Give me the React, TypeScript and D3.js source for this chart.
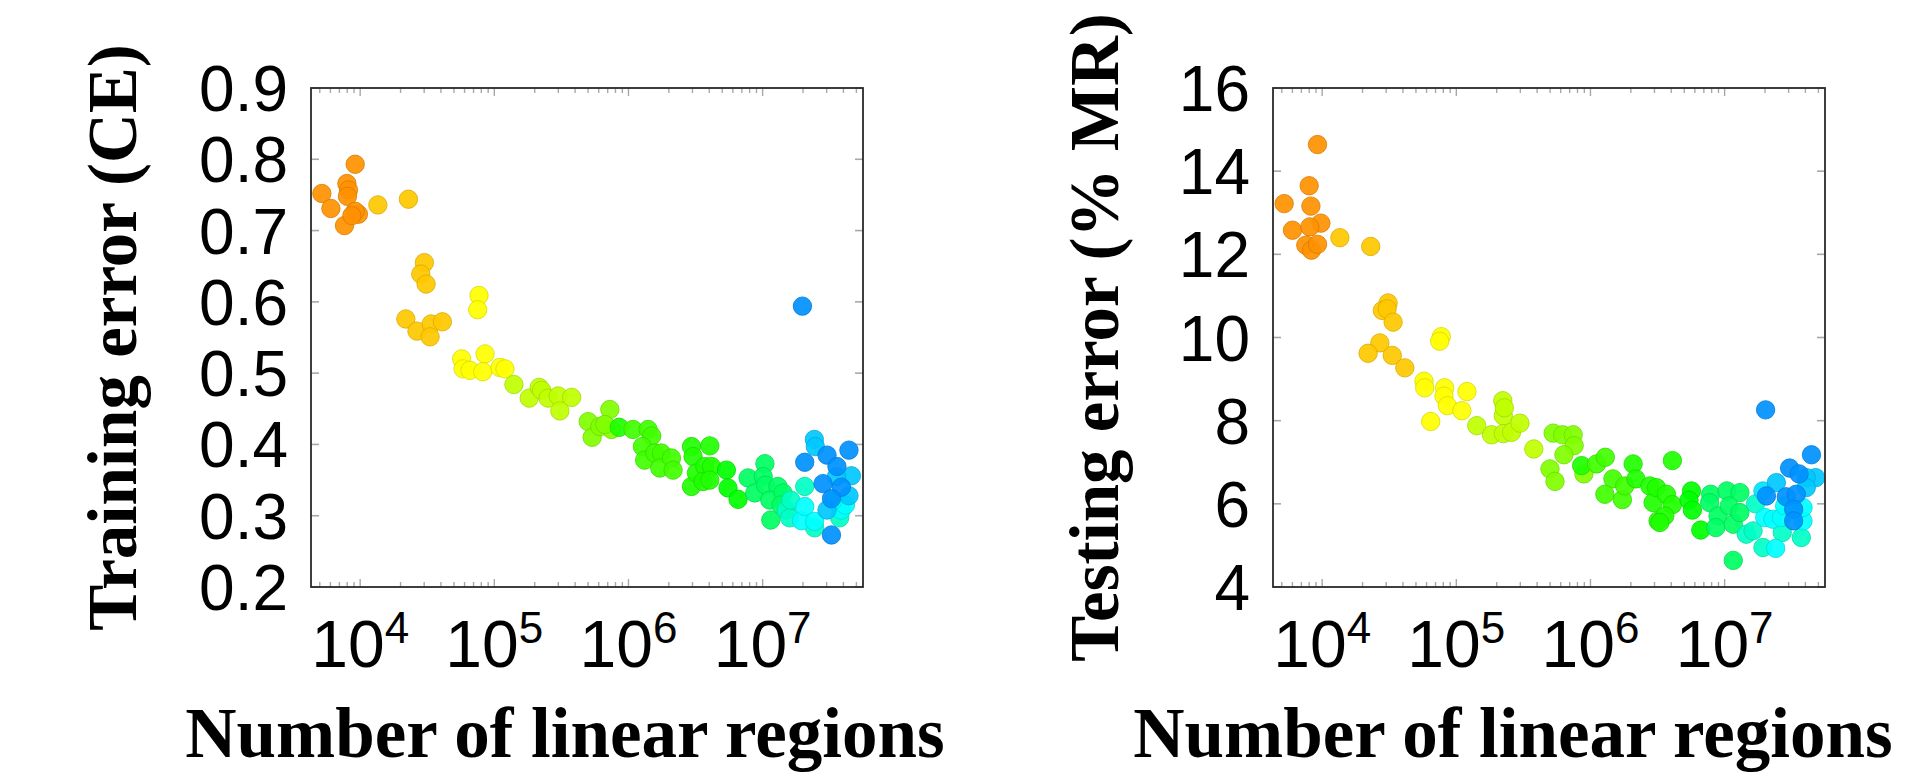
import * as d3 from "d3";

const xTickExps = [4, 5, 6, 7];
const regionsDomain = [4300, 5.6e7];
const trainTicks = [0.2, 0.3, 0.4, 0.5, 0.6, 0.7, 0.8, 0.9];
const testTicks = [4, 6, 8, 10, 12, 14, 16];

// [number of linear regions, training error (CE), colour level]
const trainPoints = [
  [5180, 0.752, 0], [7960, 0.766, 0], [8180, 0.757, 0], [8040, 0.748, 0], [6050, 0.731, 0],
  [7640, 0.707, 0], [9700, 0.723, 0], [9180, 0.727, 0], [8670, 0.721, 0], [9180, 0.793, 0],
  [13550, 0.736, 1], [22900, 0.744, 1], [30100, 0.655, 1], [28300, 0.639, 1], [31000, 0.625, 1],
  [21900, 0.576, 1], [26500, 0.559, 1], [33800, 0.569, 1], [41000, 0.572, 1], [33200, 0.551, 1],
  [76900, 0.609, 2], [75200, 0.589, 2], [57100, 0.52, 2], [58500, 0.506, 2], [65900, 0.504, 2],
  [85300, 0.527, 2], [82000, 0.502, 2], [110000, 0.508, 2], [120000, 0.506, 2],
  [140000, 0.484, 3], [182000, 0.465, 3], [216000, 0.48, 3], [225000, 0.476, 3], [252000, 0.465, 3],
  [299000, 0.468, 3], [308000, 0.447, 3], [377000, 0.466, 3],
  [501000, 0.432, 4], [536000, 0.41, 4], [726000, 0.449, 4], [612000, 0.425, 4], [748000, 0.421, 4],
  [667000, 0.428, 4],
  [853000, 0.424, 5.5], [1.08e6, 0.421, 5], [1.4e6, 0.421, 5], [1.49e6, 0.412, 5], [1.27e6, 0.397, 5],
  [1.32e6, 0.378, 5], [1.57e6, 0.388, 5], [1.76e6, 0.388, 5], [1.71e6, 0.367, 5], [2.09e6, 0.381, 5],
  [2.15e6, 0.364, 5],
  [2.95e6, 0.397, 5.5], [3.03e6, 0.383, 5.5], [2.95e6, 0.341, 5.5], [3.21e6, 0.36, 5.5], [4.04e6, 0.398, 5.5],
  [3.71e6, 0.369, 5.5], [4.16e6, 0.369, 5.5], [3.6e6, 0.348, 5.5], [4.04e6, 0.35, 5.5],
  [5.37e6, 0.364, 6], [5.52e6, 0.339, 6], [6.56e6, 0.323, 6],
  [7.79e6, 0.353, 7], [1.04e7, 0.373, 7], [1.01e7, 0.355, 7], [8.73e6, 0.332, 7], [1.05e7, 0.343, 7],
  [1.3e7, 0.341, 7], [1.13e7, 0.322, 7], [1.15e7, 0.294, 7], [1.42e7, 0.332, 7], [1.37e7, 0.315, 7],
  [1.5e7, 0.308, 8], [1.59e7, 0.297, 8], [1.62e7, 0.322, 8], [2.06e7, 0.341, 8], [2.44e7, 0.283, 8],
  [3.75e7, 0.297, 8],
  [1.95e7, 0.293, 9], [2.06e7, 0.313, 9], [2.44e7, 0.292, 9], [3.86e7, 0.308, 9], [4.14e7, 0.315, 9],
  [3.37e7, 0.322, 9],
  [2.43e7, 0.407, 10], [2.47e7, 0.397, 10], [4.59e7, 0.356, 10], [4.4e7, 0.328, 10], [3.02e7, 0.308, 10],
  [3.55e7, 0.355, 10],
  [1.98e7, 0.594, 11], [2.06e7, 0.375, 11], [3.02e7, 0.385, 11], [4.4e7, 0.392, 11], [3.58e7, 0.369, 11],
  [2.82e7, 0.345, 11], [3.86e7, 0.34, 11], [3.26e7, 0.324, 11], [3.26e7, 0.273, 11],
];

// [number of linear regions, testing error (% MR), colour level]
const testPoints = [
  [9230, 14.64, 0], [8000, 13.65, 0], [5210, 13.22, 0], [8240, 13.16, 0], [9780, 12.75, 0],
  [6010, 12.58, 0], [8090, 12.66, 0], [7550, 12.22, 0], [8320, 12.1, 0], [9230, 12.24, 0],
  [13550, 12.4, 1], [23000, 12.19, 1], [31000, 10.83, 1], [28100, 10.65, 1], [30500, 10.69, 1],
  [33800, 10.37, 1], [26900, 9.87, 1], [22000, 9.62, 1], [33300, 9.57, 1], [41300, 9.27, 1],
  [77300, 10.02, 2], [75200, 9.91, 2], [57400, 8.95, 2], [58100, 8.79, 2], [81800, 8.79, 2],
  [80900, 8.59, 2], [85700, 8.36, 2], [64400, 7.98, 2], [110000, 8.24, 2], [120000, 8.7, 2],
  [142000, 7.88, 3], [183000, 7.66, 3], [224000, 8.12, 3], [222000, 8.48, 3], [228000, 8.31, 3],
  [224000, 7.69, 3], [258000, 7.72, 3], [298000, 7.94, 3], [378000, 7.32, 3],
  [527000, 7.7, 4], [620000, 7.66, 4], [743000, 7.66, 4], [756000, 7.4, 4], [634000, 7.18, 4],
  [499000, 6.84, 4], [544000, 6.54, 4], [893000, 6.72, 4],
  [859000, 6.92, 5.5], [1.11e6, 6.96, 5], [1.29e6, 7.12, 5], [1.47e6, 6.6, 5], [1.28e6, 6.23, 5],
  [1.73e6, 6.1, 5], [1.8e6, 6.43, 5],
  [2.08e6, 6.96, 5.5], [2.18e6, 6.6, 5.5], [2.77e6, 6.43, 5.5], [2.93e6, 6.03, 5.5], [3.19e6, 5.59, 5.5],
  [4.08e6, 7.04, 5.5], [3.1e6, 6.39, 5.5], [3.68e6, 6.23, 5.5], [4.08e6, 5.98, 5.5], [3.58e6, 5.71, 5.5],
  [3.29e6, 5.55, 5.5],
  [5.66e6, 6.31, 6], [5.43e6, 6.09, 6], [5.75e6, 5.85, 6], [6.64e6, 5.37, 6],
  [7.87e6, 6.23, 7], [1.04e7, 6.31, 7], [1.3e7, 6.27, 7], [7.73e6, 6.03, 7], [8.93e6, 5.71, 7],
  [8.59e6, 5.43, 7], [1.08e7, 5.95, 7], [1.16e7, 5.51, 7], [1.3e7, 5.79, 7], [1.16e7, 4.64, 7],
  [1.45e7, 5.27, 8], [1.63e7, 5.35, 8], [1.7e7, 6.0, 8], [1.93e7, 4.95, 8], [2.69e7, 5.31, 8],
  [3.73e7, 5.19, 8],
  [2.4e7, 4.93, 9], [1.99e7, 5.67, 9], [2.29e7, 5.63, 9], [2.65e7, 5.67, 9], [3.84e7, 5.59, 9],
  [3.84e7, 5.91, 9], [2.8e7, 5.95, 9], [1.93e7, 6.31, 9.5],
  [2.43e7, 6.51, 10], [4.77e7, 6.63, 10], [4.06e7, 6.63, 10], [4.06e7, 6.39, 10],
  [2.02e7, 8.26, 11], [2.05e7, 6.19, 11], [2.88e7, 6.17, 11], [3.42e7, 6.23, 11], [3.27e7, 5.87, 11],
  [3.27e7, 5.59, 11], [3.05e7, 6.86, 11], [3.59e7, 6.72, 11], [4.44e7, 7.18, 11],
];

// colour level -> hue (orange .. yellow .. green .. cyan .. blue)
const levelHue = d3.scaleLinear().domain([0, 2, 6, 8, 9, 11]).range([34, 60, 120, 166, 180, 206]);

const TOP = 88, W = 552, H = 499;
const tickFont = "'Liberation Sans', Arial, Helvetica, sans-serif";
const labelFont = "'Liberation Serif', 'Times New Roman', serif";

function Panel({ left, points, yDomain, yTicks, yFormat, yLabel, yLabelX, xLabelX }) {
  const x = d3.scaleLog().domain(regionsDomain).range([left, left + W]);
  const y = d3.scaleLinear().domain(yDomain).range([TOP + H, TOP]);
  const allX = x.ticks().filter(v => v >= regionsDomain[0] && v <= regionsDomain[1]);
  const isMajor = (v: number) => Math.abs(Math.log10(v) - Math.round(Math.log10(v))) < 1e-9;
  const tickColor = "#a8a8a8";

  return (
    <g>
      {/* y ticks on both sides */}
      {yTicks.map(t => (
        <g key={"y" + t}>
          <line x1={left} x2={left + 8} y1={y(t)} y2={y(t)} stroke={tickColor} strokeWidth={1.6} />
          <line x1={left + W - 8} x2={left + W} y1={y(t)} y2={y(t)} stroke={tickColor} strokeWidth={1.6} />
          <text x={left - 23} y={y(t)} dy="0.36em" textAnchor="end" fontFamily={tickFont} fontSize={64} fill="#000">
            {yFormat(t)}
          </text>
        </g>
      ))}
      {/* x ticks top and bottom */}
      {allX.map((v, i) => {
        const len = isMajor(v) ? 8 : 5;
        return (
          <g key={"x" + i}>
            <line x1={x(v)} x2={x(v)} y1={TOP + H} y2={TOP + H - len} stroke={tickColor} strokeWidth={1.4} />
            <line x1={x(v)} x2={x(v)} y1={TOP} y2={TOP + len} stroke={tickColor} strokeWidth={1.4} />
          </g>
        );
      })}
      {xTickExps.map(e => (
        <text key={"xl" + e} x={x(Math.pow(10, e))} y={667} textAnchor="middle" fontFamily={tickFont} fontSize={66} fill="#000">
          10<tspan fontSize={44} dy={-24}>{e}</tspan>
        </text>
      ))}
      {/* points */}
      {points.map((p, i) => {
        const h = levelHue(p[2]);
        const fill = d3.hsl(h, 1, 0.5);
        const stroke = d3.hsl(h, 1, 0.5).darker(0.45);
        return (
          <circle key={i} cx={x(p[0])} cy={y(p[1])} r={9.2}
            fill={fill.formatHex()} fillOpacity={0.92}
            stroke={stroke.formatHex()} strokeOpacity={0.8} strokeWidth={1} />
        );
      })}
      {/* frame */}
      <rect x={left} y={TOP} width={W} height={H} fill="none" stroke="#2a2a2a" strokeWidth={1.8} />
      {/* axis labels */}
      <text transform={`translate(${yLabelX},${TOP + H / 2}) rotate(-90)`} textAnchor="middle"
        fontFamily={labelFont} fontWeight="bold" fontSize={69} fill="#000">{yLabel}</text>
      <text x={xLabelX} y={757} textAnchor="middle" fontFamily={labelFont} fontWeight="bold" fontSize={71} fill="#000">
        Number of linear regions
      </text>
    </g>
  );
}

export default function App() {
  return (
    <svg width={1917} height={775} style={{ position: "absolute", left: 0, top: 0, background: "#fff" }}>
      <rect width={1917} height={775} fill="#fff" />
      <Panel left={311} points={trainPoints} yDomain={[0.2, 0.9]} yTicks={trainTicks}
        yFormat={d3.format(".1f")} yLabel="Training error (CE)" yLabelX={136} xLabelX={565} />
      <Panel left={1273} points={testPoints} yDomain={[4, 16]} yTicks={testTicks}
        yFormat={d3.format("d")} yLabel="Testing error (% MR)" yLabelX={1118} xLabelX={1513} />
    </svg>
  );
}
